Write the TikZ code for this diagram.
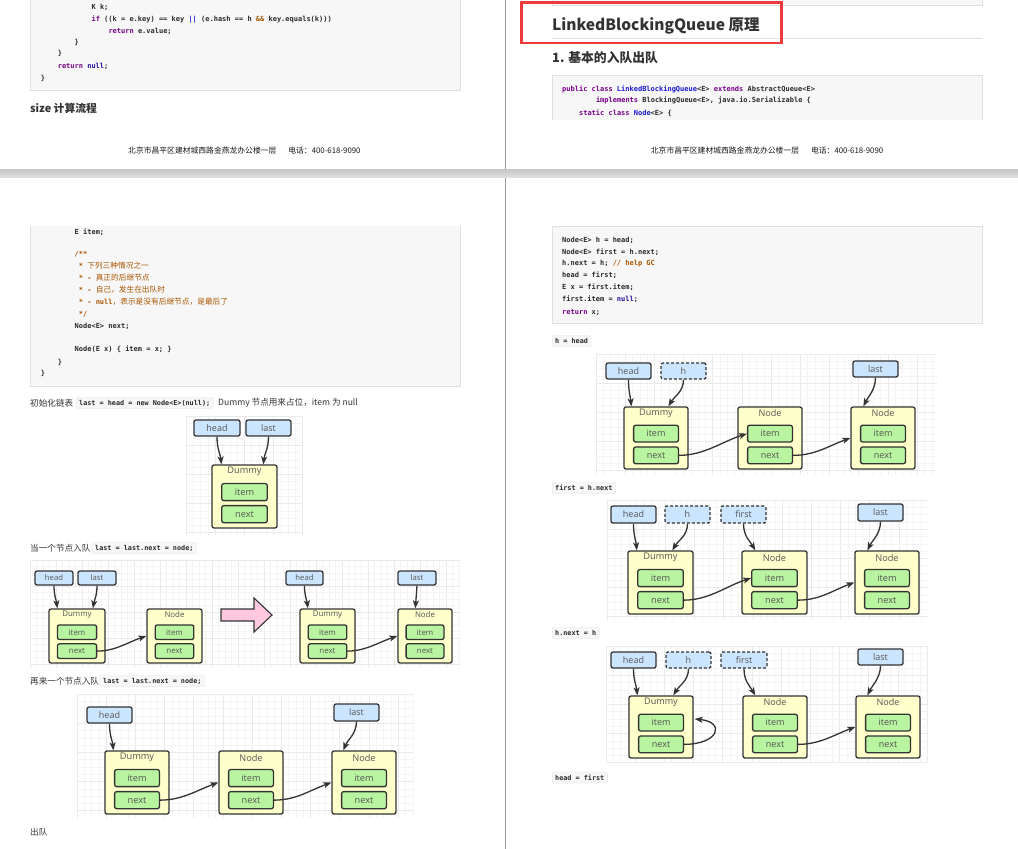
\documentclass[tikz,border=0pt]{standalone}
\usepackage{fontspec}
\setmainfont{Noto Sans CJK SC}
\newfontfamily\codefont{DejaVu Sans Mono}
\newfontfamily\dlabel{Open Sans}
\usetikzlibrary{arrows.meta,calc}
\definecolor{txt}{HTML}{333333}
\definecolor{ctxt}{HTML}{2A2A2A}
\definecolor{kwc}{HTML}{770088}
\definecolor{tyc}{HTML}{1A1AD0}
\definecolor{cmc}{HTML}{AA5500}
\definecolor{atc}{HTML}{221199}
\definecolor{codebg}{HTML}{F7F7F7}
\definecolor{codebd}{HTML}{E0E0E0}
\definecolor{ptrfill}{HTML}{CCE5FF}
\definecolor{nodefill}{HTML}{FFFFCC}
\definecolor{fieldfill}{HTML}{B9F5A0}
\definecolor{edgec}{HTML}{333333}
\definecolor{labc}{HTML}{555555}
\definecolor{gminc}{HTML}{F4F4F4}
\definecolor{gmajc}{HTML}{EAEAEA}
\definecolor{pinkc}{HTML}{FFC8DF}
\definecolor{redc}{HTML}{EE3B3B}
\definecolor{sepc}{HTML}{9A9A9A}
\newcommand\qfs[1]{\fontsize{#1}{#1}\selectfont}
\newcommand\qkw[1]{\textcolor{kwc}{#1}}
\newcommand\qty[1]{\textcolor{tyc}{#1}}
\newcommand\qcm[1]{\textcolor{cmc}{#1}}
\newcommand\qat[1]{\textcolor{atc}{#1}}
\newcommand\qcj[1]{{\normalfont\qfs{7.7}#1}}
\tikzset{
  codeline/.style={anchor=base west, inner sep=0pt, text=ctxt, font=\codefont\bfseries\qfs{7}},
  bodytxt/.style={anchor=west, inner sep=0pt, text=txt, font=\qfs{8.6}},
  icode/.style={anchor=west, draw=codebd, fill=codebg, rounded corners=1.5pt, inner xsep=3pt, inner ysep=0pt, minimum height=11pt, text=ctxt, font=\codefont\bfseries\qfs{6.8}},
  codeblk/.style={fill=codebg, draw=codebd, line width=0.8pt},
  ptr/.style={draw=edgec, fill=ptrfill, line width=1.3pt, rounded corners=2pt, inner sep=0pt, text=labc, font=\dlabel\qfs{9}},
  dptr/.style={dash pattern=on 3pt off 2pt},
  nbox/.style={draw=edgec, fill=nodefill, line width=1.3pt, rounded corners=2pt, inner sep=0pt},
  fbox/.style={draw=edgec, fill=fieldfill, line width=1.3pt, rounded corners=2pt, inner sep=0pt, text=labc},
  arr/.style={draw=edgec, line width=1.3pt, -{Stealth[length=8pt,width=6pt,inset=2pt]}},
  gmins/.style={draw=gminc, line width=0.5pt},
  gmajs/.style={draw=gmajc, line width=0.7pt},
  hbig/.style={anchor=west, inner sep=0pt, text=txt, font=\bfseries\qfs{15.5}},
  hmid/.style={anchor=west, inner sep=0pt, text=txt, font=\bfseries\qfs{12.8}},
  hsmall/.style={anchor=west, inner sep=0pt, text=txt, font=\bfseries\qfs{10.8}},
  foot/.style={anchor=west, inner sep=0pt, text=black!90, font=\qfs{7.8}},
}
\newcommand\qgrid[5]{%
  \pgfmathtruncatemacro\qqNx{((#3)-(#1))/(#5)}%
  \pgfmathtruncatemacro\qqNy{((#4)-(#2))/(#5)}%
  \foreach \qqk in {0,...,\qqNx}{%
    \pgfmathsetmacro\qqX{(#1)+\qqk*(#5)}%
    \pgfmathtruncatemacro\qqM{mod(\qqk,4)}%
    \ifnum\qqM=0 \draw[gmajs] (\qqX,#2) -- (\qqX,#4);\else\draw[gmins] (\qqX,#2) -- (\qqX,#4);\fi}%
  \foreach \qqk in {0,...,\qqNy}{%
    \pgfmathsetmacro\qqY{(#2)+\qqk*(#5)}%
    \pgfmathtruncatemacro\qqM{mod(\qqk,4)}%
    \ifnum\qqM=0 \draw[gmajs] (#1,\qqY) -- (#3,\qqY);\else\draw[gmins] (#1,\qqY) -- (#3,\qqY);\fi}%
}
\newcommand\qptr[7][]{%
  \node[ptr,#1,minimum width={(#5)-(#3)},minimum height={(#6)-(#4)}] (#2) at ({((#3)+(#5))/2},{((#4)+(#6))/2}) {#7};}
\newcommand\qnode[6]{%
  \pgfmathsetmacro\qqW{(#4)-(#2)}%
  \pgfmathsetmacro\qqH{(#5)-(#3)}%
  \pgfmathsetmacro\qqF{0.146*\qqH}%
  \pgfmathsetmacro\qqCx{((#2)+(#4))/2}%
  \node[nbox,minimum width=\qqW,minimum height=\qqH] (#1) at (\qqCx,{((#3)+(#5))/2}) {};
  \node[inner sep=0pt,text=labc,font=\dlabel\qfs{\qqF}] (#1-l) at (\qqCx,{(#3)+0.105*\qqH}) {#6};
  \node[fbox,minimum width=0.7*\qqW,minimum height=0.27*\qqH,font=\dlabel\qfs{\qqF}] (#1-i) at (\qqCx,{(#3)+0.43*\qqH}) {item};
  \node[fbox,minimum width=0.7*\qqW,minimum height=0.27*\qqH,font=\dlabel\qfs{\qqF}] (#1-n) at (\qqCx,{(#3)+0.78*\qqH}) {next};
}
\begin{document}
\begin{tikzpicture}[x=1pt,y=-1pt]
\useasboundingbox (0,0) rectangle (1018,849);
\fill[white] (0,0) rectangle (1018,849);

% ---------- top-left page ----------
\draw[codeblk] (30,-5) rectangle (460,90);
\node[codeline] (tl1) at (91.4,9.2) {K k;};
\node[codeline] (tl2) at (91.4,21.8) {\qkw{if} ((k = e.key) == key \qty{||} (e.hash == h \qcm{\&\&} key.equals(k)))};
\node[codeline] (tl3) at (108.3,33.2) {\qkw{return} e.value;};
\node[codeline] (tl4) at (74.5,44.8) {\}};
\node[codeline] (tl5) at (57.6,55.8) {\}};
\node[codeline] (tl6) at (57.6,68.5) {\qkw{return} \qat{null};};
\node[codeline] (tl7) at (40.7,80.8) {\}};
\node[hsmall] (tlsize) at (30,108.3) {size 计算流程};
\node[foot] (tlfoot) at (128,151) {北京市昌平区建材城西路金燕龙办公楼一层\hspace{12pt}电话：400-618-9090};

% ---------- top-right page ----------
\draw[codeblk] (552,-5) rectangle (982,5);
\node[hbig] (trtitle) at (552,25.5) {LinkedBlockingQueue 原理};
\draw[draw=codebd, line width=0.8pt] (552,38.5) -- (982,38.5);
\draw[draw=redc, line width=2.2pt] (521.5,2.5) rectangle (781.5,43);
\node[hmid] (trsub) at (552,57.3) {1. 基本的入队出队};
\fill[codebg] (552,75) rectangle (982,120);
\draw[draw=codebd, line width=0.8pt] (552,120) -- (552,75) -- (982,75) -- (982,120);
\node[codeline] (tr1) at (562,91.2) {\qkw{public} \qkw{class} \qty{LinkedBlockingQueue}<E> \qkw{extends} AbstractQueue<E>};
\node[codeline] (tr2) at (595.8,102.5) {\qkw{implements} BlockingQueue<E>, java.io.Serializable \{};
\node[codeline] (tr3) at (578.9,115.8) {\qkw{static} \qkw{class} \qty{Node}<E> \{};
\node[foot] (trfoot) at (650.7,151) {北京市昌平区建材城西路金燕龙办公楼一层\hspace{12pt}电话：400-618-9090};

% ---------- separators ----------
\draw[draw=sepc, line width=1pt] (505.5,0) -- (505.5,849);
\shade[top color=gray!45, bottom color=gray!25] (0,169) rectangle (1018,177);

% ---------- bottom-left page ----------
\fill[codebg] (30,226) rectangle (460,386);
\draw[draw=codebd, line width=0.8pt] (30,226) -- (30,386) -- (460,386) -- (460,226);
\node[codeline] (bl1) at (74.5,234.2) {E item;};
\node[codeline] (bl2) at (74.5,256.8) {\qcm{/**}};
\node[codeline] (bl3) at (78.7,268.8) {\qcm{* \qcj{下列三种情况之一}}};
\node[codeline] (bl4) at (78.7,280.8) {\qcm{* - \qcj{真正的后继节点}}};
\node[codeline] (bl5) at (78.7,292.5) {\qcm{* - \qcj{自己，发生在出队时}}};
\node[codeline] (bl6) at (78.7,304.5) {\qcm{* - null\qcj{，表示是没有后继节点，是最后了}}};
\node[codeline] (bl7) at (78.7,316.5) {\qcm{*/}};
\node[codeline] (bl8) at (74.5,328.5) {Node<E> next;};
\node[codeline] (bl9) at (74.5,351.8) {Node(E x) \{ item = x; \}};
\node[codeline] (bl10) at (57.6,364.2) {\}};
\node[codeline] (bl11) at (40.7,375.8) {\}};

\node[bodytxt] (t1) at (30,403) {初始化链表};
\node[icode] (t1c) at (76,403) {last = head = new Node<E>(null);};
\node[bodytxt] (t1b) at (218,403) {Dummy 节点用来占位，item 为 null};

% diagram 1
\qgrid{186}{416}{303}{535}{7.3}
\qptr{a1h}{194}{420}{240}{436}{head}
\qptr{a1l}{246}{420}{291}{436}{last}
\qnode{a1d}{212}{465}{277}{528}{Dummy}
\draw[arr] (a1h.south) .. controls +(0,12) and +(-1,-10) .. ($(a1d.north west)+(10,0)$);
\draw[arr] (a1l.south) .. controls +(0,12) and +(1,-10) .. ($(a1d.north west)+(52,0)$);

\node[bodytxt] (t2) at (30,548) {当一个节点入队};
\node[icode] (t2c) at (92,548) {last = last.next = node;};

% diagram 2
\qgrid{30}{560}{460}{668}{6.5}
\qptr[font=\dlabel\qfs{7.7}]{b1h}{35}{571}{73}{585}{head}
\qptr[font=\dlabel\qfs{7.7}]{b1l}{78}{571}{116}{585}{last}
\qnode{b1d}{49}{609}{105}{663}{Dummy}
\qnode{b1n}{147}{609}{202}{663}{Node}
\draw[arr] (b1h.south) .. controls +(0,10) and +(-1,-8) .. ($(b1d.north west)+(9,0)$);
\draw[arr] (b1l.south) .. controls +(0,10) and +(1.5,-8) .. ($(b1d.north west)+(44.5,0)$);
\draw[arr] (b1d-n.east) .. controls +(18,0) and +(-18,6) .. (b1n.west);
\draw[draw=edgec, fill=pinkc, line width=1.1pt] (221,609) -- (254,609) -- (254,598) -- (272,615) -- (254,632) -- (254,621) -- (221,621) -- cycle;
\qptr[font=\dlabel\qfs{7.7}]{b2h}{286}{571}{323}{585}{head}
\qptr[font=\dlabel\qfs{7.7}]{b2l}{398}{571}{436}{585}{last}
\qnode{b2d}{300}{609}{355}{663}{Dummy}
\qnode{b2n}{398}{609}{452}{663}{Node}
\draw[arr] (b2h.south) .. controls +(0,10) and +(-1,-8) .. ($(b2d.north west)+(8.5,0)$);
\draw[arr] (b2l.south) -- ($(b2n.north west)+(18,0)$);
\draw[arr] (b2d-n.east) .. controls +(18,0) and +(-18,6) .. (b2n.west);

\node[bodytxt] (t3) at (30,681) {再来一个节点入队};
\node[icode] (t3c) at (100,681) {last = last.next = node;};

% diagram 3
\qgrid{77}{694}{413}{818}{7.3}
\qptr{c1h}{87}{707}{132}{723}{head}
\qptr{c1l}{334}{704}{379}{721}{last}
\qnode{c1d}{105}{751}{169}{814}{Dummy}
\qnode{c1n}{219}{751}{283}{814}{Node}
\qnode{c1m}{332}{751}{396}{814}{Node}
\draw[arr] (c1h.south) .. controls +(0,12) and +(-1,-10) .. ($(c1d.north west)+(9,0)$);
\draw[arr] (c1l.south) .. controls +(0,12) and +(4,-10) .. ($(c1m.north west)+(12,0)$);
\draw[arr] (c1d-n.east) .. controls +(22,0) and +(-22,8) .. (c1n.west);
\draw[arr] (c1n-n.east) .. controls +(22,0) and +(-22,8) .. (c1m.west);

\node[bodytxt] (t4) at (30,832) {出队};

% ---------- bottom-right page ----------
\draw[codeblk] (552,226) rectangle (982,323);
\node[codeline] (br1) at (562,242.5) {Node<E> h = head;};
\node[codeline] (br2) at (562,254.2) {Node<E> first = h.next;};
\node[codeline] (br3) at (562,265.8) {h.next = h; \qcm{// help GC}};
\node[codeline] (br4) at (562,277.5) {head = first;};
\node[codeline] (br5) at (562,289.8) {E x = first.item;};
\node[codeline] (br6) at (562,301.8) {first.item = \qat{null};};
\node[codeline] (br7) at (562,314.2) {\qkw{return} x;};

\node[icode] (u1) at (552,341) {h = head};

% diagram 4
\qgrid{596}{354}{937}{475}{7.3}
\qptr{d1h}{606}{363}{651}{379}{head}
\qptr[dptr]{d1x}{661}{363}{706}{379}{h}
\qptr{d1l}{853}{361}{898}{377}{last}
\qnode{d1d}{624}{407}{688}{469}{Dummy}
\qnode{d1n}{738}{407}{802}{469}{Node}
\qnode{d1m}{851}{407}{915}{469}{Node}
\draw[arr] (d1h.south) .. controls +(0,12) and +(-1,-10) .. ($(d1d.north west)+(8,0)$);
\draw[arr] (d1x.south) .. controls +(0,12) and +(6,-10) .. ($(d1d.north west)+(45,0)$);
\draw[arr] (d1l.south) .. controls +(0,12) and +(5,-10) .. ($(d1m.north west)+(13,0)$);
\draw[arr] (d1d-n.east) .. controls +(25,0) and +(-25,8) .. (d1n-i.west);
\draw[arr] (d1n-n.east) .. controls +(22,0) and +(-22,8) .. (d1m.west);

\node[icode] (u2) at (552,488) {first = h.next};

% diagram 5
\qgrid{607}{500}{928}{620}{7.3}
\qptr{e1h}{611}{506}{656}{523}{head}
\qptr[dptr]{e1x}{665}{506}{710}{523}{h}
\qptr[dptr]{e1f}{721}{506}{766}{523}{first}
\qptr{e1l}{858}{504}{903}{521}{last}
\qnode{e1d}{628}{551}{693}{614}{Dummy}
\qnode{e1n}{742}{551}{807}{614}{Node}
\qnode{e1m}{855}{551}{919}{614}{Node}
\draw[arr] (e1h.south) .. controls +(0,12) and +(-1,-10) .. ($(e1d.north west)+(9.5,0)$);
\draw[arr] (e1x.south) .. controls +(0,12) and +(6,-10) .. ($(e1d.north west)+(45,0)$);
\draw[arr] (e1f.south) .. controls +(0,12) and +(-6,-10) .. ($(e1n.north west)+(14,0)$);
\draw[arr] (e1l.south) .. controls +(0,12) and +(5,-10) .. ($(e1m.north west)+(13,0)$);
\draw[arr] (e1d-n.east) .. controls +(25,0) and +(-25,8) .. (e1n-i.west);
\draw[arr] (e1n-n.east) .. controls +(22,0) and +(-22,8) .. (e1m.west);

\node[icode] (u3) at (552,633) {h.next = h};

% diagram 6
\qgrid{606}{646}{928}{763}{7.3}
\qptr{f1h}{611}{652}{656}{668}{head}
\qptr[dptr]{f1x}{666}{652}{711}{668}{h}
\qptr[dptr]{f1f}{721}{652}{767}{668}{first}
\qptr{f1l}{858}{649}{903}{665}{last}
\qnode{f1d}{629}{696}{693}{758}{Dummy}
\qnode{f1n}{743}{696}{807}{758}{Node}
\qnode{f1m}{856}{696}{920}{758}{Node}
\draw[arr] (f1h.south) .. controls +(0,12) and +(-1,-10) .. ($(f1d.north west)+(9,0)$);
\draw[arr] (f1x.south) .. controls +(0,12) and +(6,-10) .. ($(f1d.north west)+(45,0)$);
\draw[arr] (f1f.south) .. controls +(0,12) and +(-6,-10) .. ($(f1n.north west)+(13,0)$);
\draw[arr] (f1l.south) .. controls +(0,12) and +(5,-10) .. ($(f1m.north west)+(12,0)$);
\draw[arr] (f1d-n.east) .. controls +(35,0) and +(31,3) .. ($(f1d.east)+(1,-8)$);
\draw[arr] (f1n-n.east) .. controls +(22,0) and +(-22,8) .. (f1m.west);

\node[icode] (u4) at (552,777.5) {head = first};
\end{tikzpicture}
\end{document}
